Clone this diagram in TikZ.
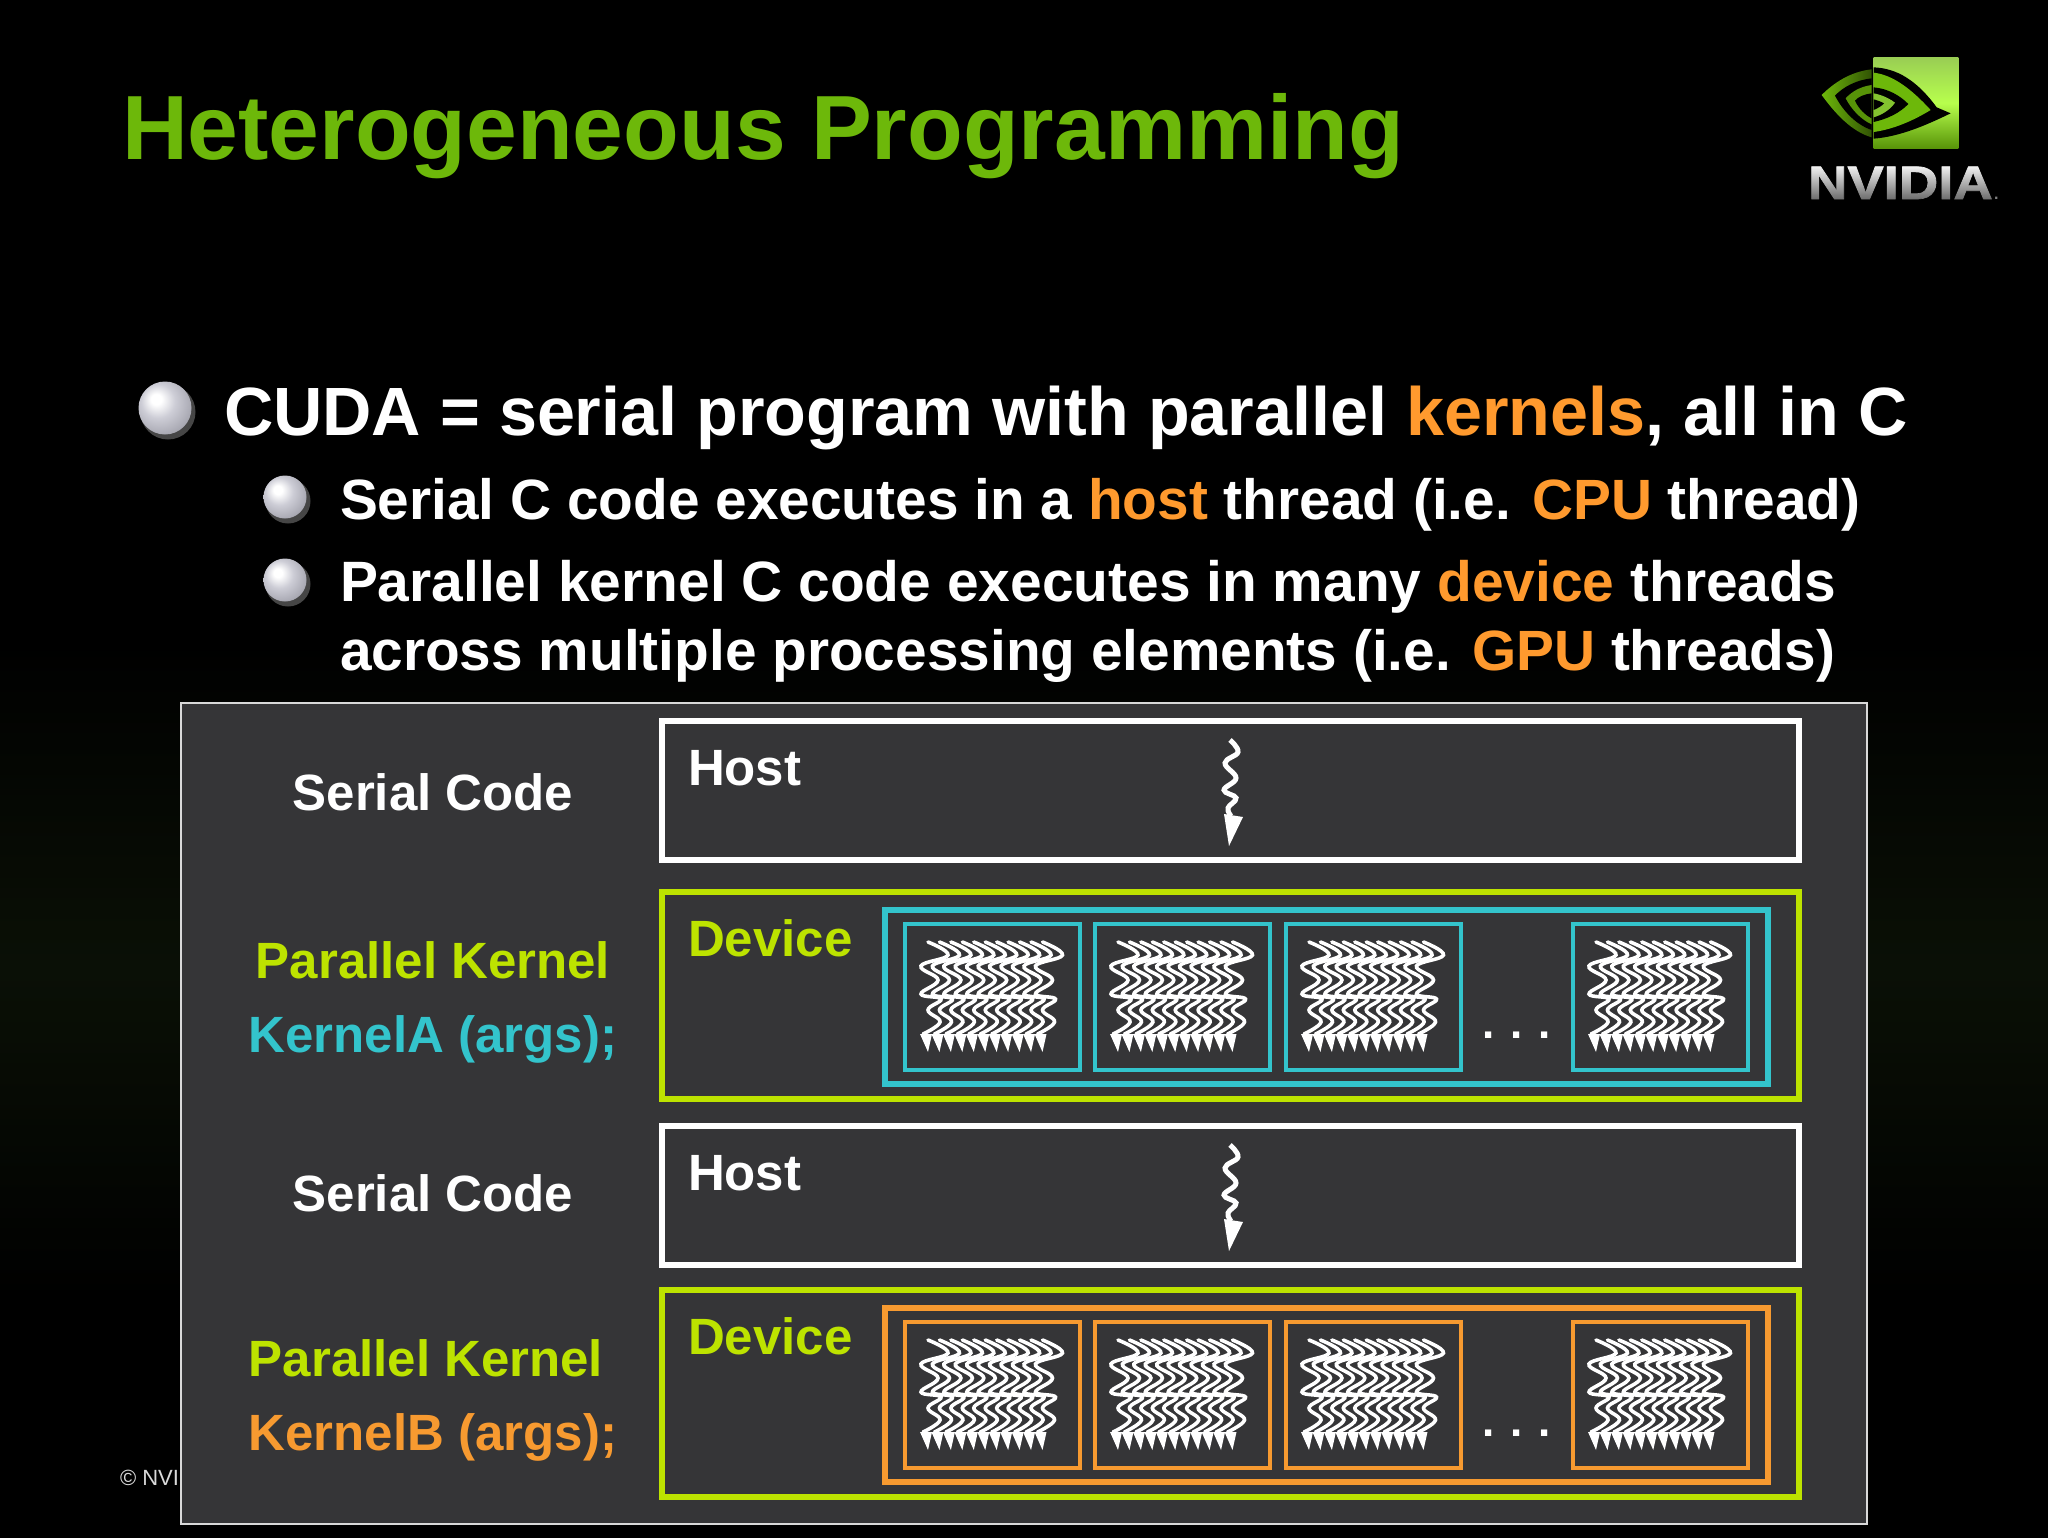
\documentclass[tikz,border=0pt]{standalone}
\usepackage{fontspec}
\setmainfont{Liberation Sans}
\newfontfamily\logofont{Liberation Sans Bold}[FakeBold=1.5]
\usetikzlibrary{fadings}
\definecolor{titlegreen}{HTML}{6DB80A}
\definecolor{panelgray}{HTML}{353537}
\definecolor{limegreen}{HTML}{BDE300}
\definecolor{kernelcyan}{HTML}{33C4CC}
\definecolor{kernelorange}{HTML}{F79A30}
\definecolor{keyorange}{HTML}{FF9A2E}
\definecolor{bgdark}{HTML}{0A1006}
\definecolor{pearlA}{HTML}{FFFFFF}
\definecolor{pearlB}{HTML}{CDCDD6}
\definecolor{pearlC}{HTML}{A8A8B2}
\definecolor{pearlD}{HTML}{6E6E76}
\pgfdeclareradialshading{pearl}{\pgfpoint{-9bp}{9bp}}{
  color(0bp)=(pearlA);color(5bp)=(pearlA);color(16bp)=(pearlB);
  color(30bp)=(pearlC);color(42bp)=(pearlD);color(60bp)=(pearlD)}
\newcommand{\fsz}[1]{\fontsize{#1}{#1}\selectfont\bfseries}
\newcommand{\key}[1]{\textcolor{keyorange}{#1}}

\begin{document}
\begin{tikzpicture}[
    x=1pt,y=-1pt,
    every node/.style={inner sep=0pt,outer sep=0pt},
    label/.style={anchor=base west,text=white},
    bullet/.style={circle,shading=pearl,minimum size=#1},
    shadowball/.style={circle,fill=gray!55!black,minimum size=#1},
    hostbox/.style={draw=white,line width=5.5pt,anchor=north west,minimum width=1137pt,minimum height=139pt},
    devbox/.style={draw=limegreen,line width=6.5pt,anchor=north west,minimum width=1137pt,minimum height=207pt},
    groupbox/.style={line width=6.5pt,anchor=north west,minimum width=883pt,minimum height=174pt},
    corebox/.style={line width=4.5pt,anchor=north west,minimum width=175pt,minimum height=146pt},
    threadline/.style={draw=white,line width=3.6pt,line cap=round},
    threads/.pic={
      \foreach \i in {0,...,10} {
        \begin{scope}[xshift=\i*11.45pt]
          \draw[threadline] plot[smooth,tension=.7] coordinates{
            (0,0) (20,13) (-7,24) (10,38) (-7,52) (13,57) (0,68) (12,80) (-5,92)};
          \fill[white] (-8,92) -- (4,92) -- (0,110) -- cycle;
        \end{scope}
      }
    },
    hostthread/.pic={
      \draw[white,line width=5pt] plot[smooth,tension=.7] coordinates{
        (0,0) (8,12) (-5,23) (6,38) (-6,50) (6,58) (-2,68) (1,76)};
      \fill[white] (-6,74) -- (13,77) -- (-1,106) -- cycle;
    },
    ]
  \useasboundingbox (0,0) rectangle (2048,1537);
  \fill[black] (-3,-3) rectangle (2051,1541);
  \fill[bottom color=black,top color=black,middle color=bgdark] (-3,640) rectangle (2051,1300);

  \node[label,text=titlegreen] (title) at (122,159) {\fsz{91.2}Heterogeneous Programming};

  % logo
  \begin{scope}[shift={(1780,30)},x=0.3333pt,y=-0.3333pt]
    \fill[top color=titlegreen!70!white,bottom color=titlegreen!80!black,middle color=green!40!yellow!70!white] (281,82) rectangle (535,356);
    \fill[left color=titlegreen,right color=titlegreen!45!black] (275,118) .. controls (210,125) and (160,160) .. (125,195) .. controls (165,250) and (215,305) .. (275,322) -- cycle;
    \fill[black] (275,145) .. controls (230,150) and (190,170) .. (165,197) .. controls (190,245) and (230,285) .. (275,300) -- cycle;
    \fill[titlegreen!80!black] (275,165) .. controls (240,170) and (215,185) .. (197,205) .. controls (215,240) and (245,270) .. (275,283) -- cycle;
    \fill[black] (275,190) .. controls (255,192) and (235,200) .. (225,212) .. controls (235,235) and (255,255) .. (275,265) -- cycle;
    \fill[black] (281,112) .. controls (350,115) and (410,150) .. (470,232) -- (512,250) .. controls (440,285) and (360,320) .. (281,326) -- cycle;
    \fill[titlegreen] (281,128) .. controls (340,135) and (395,178) .. (452,240) .. controls (400,272) and (340,298) .. (281,306) -- cycle;
    \fill[black] (281,172) .. controls (325,176) and (360,197) .. (385,222) .. controls (360,248) and (325,266) .. (281,276) -- cycle;
    \fill[titlegreen!85!white] (281,190) .. controls (310,195) and (335,210) .. (345,218) .. controls (330,240) and (305,255) .. (281,262) -- cycle;
    \fill[black] (281,208) .. controls (295,212) and (305,216) .. (312,220) .. controls (305,228) and (295,234) .. (281,240) -- cycle;
  \end{scope}
  \node[anchor=base west,text=white,xscale=1.16] (logotext) at (1808,199) {\fontsize{47}{47}\logofont NVIDIA};
  \fill[black,path fading=north,fill opacity=.65] (1800,163) rectangle (2000,204);
  \node[anchor=base west,text=white!50!black] (logodot) at (1994,199) {\fsz{16}.};

  \node[shadowball=55pt] (bulletAs) at (168,412) {};
  \node[bullet=53pt] (bulletA) at (165,408) {};
  \node[shadowball=45pt] (bulletBs) at (288,501) {};
  \node[bullet=43pt] (bulletB) at (285,497) {};
  \node[shadowball=45pt] (bulletCs) at (288,584) {};
  \node[bullet=43pt] (bulletC) at (285,580) {};

  \node[label] (cuda) at (224,435) {\fsz{68.3}CUDA = serial program with parallel \key{kernels}, all in C};
  \node[label] (serial) at (340,519) {\fsz{56.8}Serial C code executes in a \key{host} thread (i.e. \key{CPU} thread)};
  \node[label] (para) at (340,601) {\fsz{56.9}Parallel kernel C code executes in many \key{device} threads};
  \node[label] (across) at (340,670) {\fsz{56.8}across multiple processing elements (i.e. \key{GPU} threads)};

  \node[label,text=white!85!black] (copyr) at (120,1485) {\fontsize{22}{22}\selectfont © NVI};

  \node[draw=white!85!black,line width=1.5pt,fill=panelgray,anchor=north west,minimum width=1686pt,minimum height=821pt] (panel) at (181,703) {};

  \begin{scope}[every node/.append style={anchor=base}]
    \node[text=white] (serialA) at (433,810) {\fsz{51}Serial Code};
    \node[text=limegreen] (parA) at (433,978) {\fsz{51}Parallel Kernel};
    \node[text=kernelcyan] (kernA) at (433,1052) {\fsz{51}KernelA (args);};
    \node[text=white] (serialB) at (433,1211) {\fsz{51}Serial Code};
    \node[text=limegreen] (parB) at (426,1376) {\fsz{51}Parallel Kernel};
    \node[text=kernelorange] (kernB) at (433,1450) {\fsz{51}KernelB (args);};
  \end{scope}

  \foreach \y/\n in {721/A,1126/B} {
    \node[hostbox] (host\n) at (662,\y) {};
    \node[label] at (688,\y+64) {\fsz{51}Host};
    \pic at (1230,\y+19) {hostthread};
  }
  \foreach \y/\c/\n in {892/kernelcyan/A,1290/kernelorange/B} {
    \node[devbox] (dev\n) at (662,\y) {};
    \node[label,text=limegreen] at (688,\y+64) {\fsz{51}Device};
    \node[groupbox,draw=\c] (group\n) at (885,\y+18) {};
    \foreach \x/\m in {905/a,1095/b,1286/c,1573/d} {
      \node[corebox,draw=\c] (core\n\m) at (\x,\y+32) {};
      \pic at (\x+23,\y+50) {threads};
    }
    \node[label] at (1482,\y+146) {\fsz{44}.\hspace{16pt}.\hspace{16pt}.};
  }
\end{tikzpicture}
\end{document}
